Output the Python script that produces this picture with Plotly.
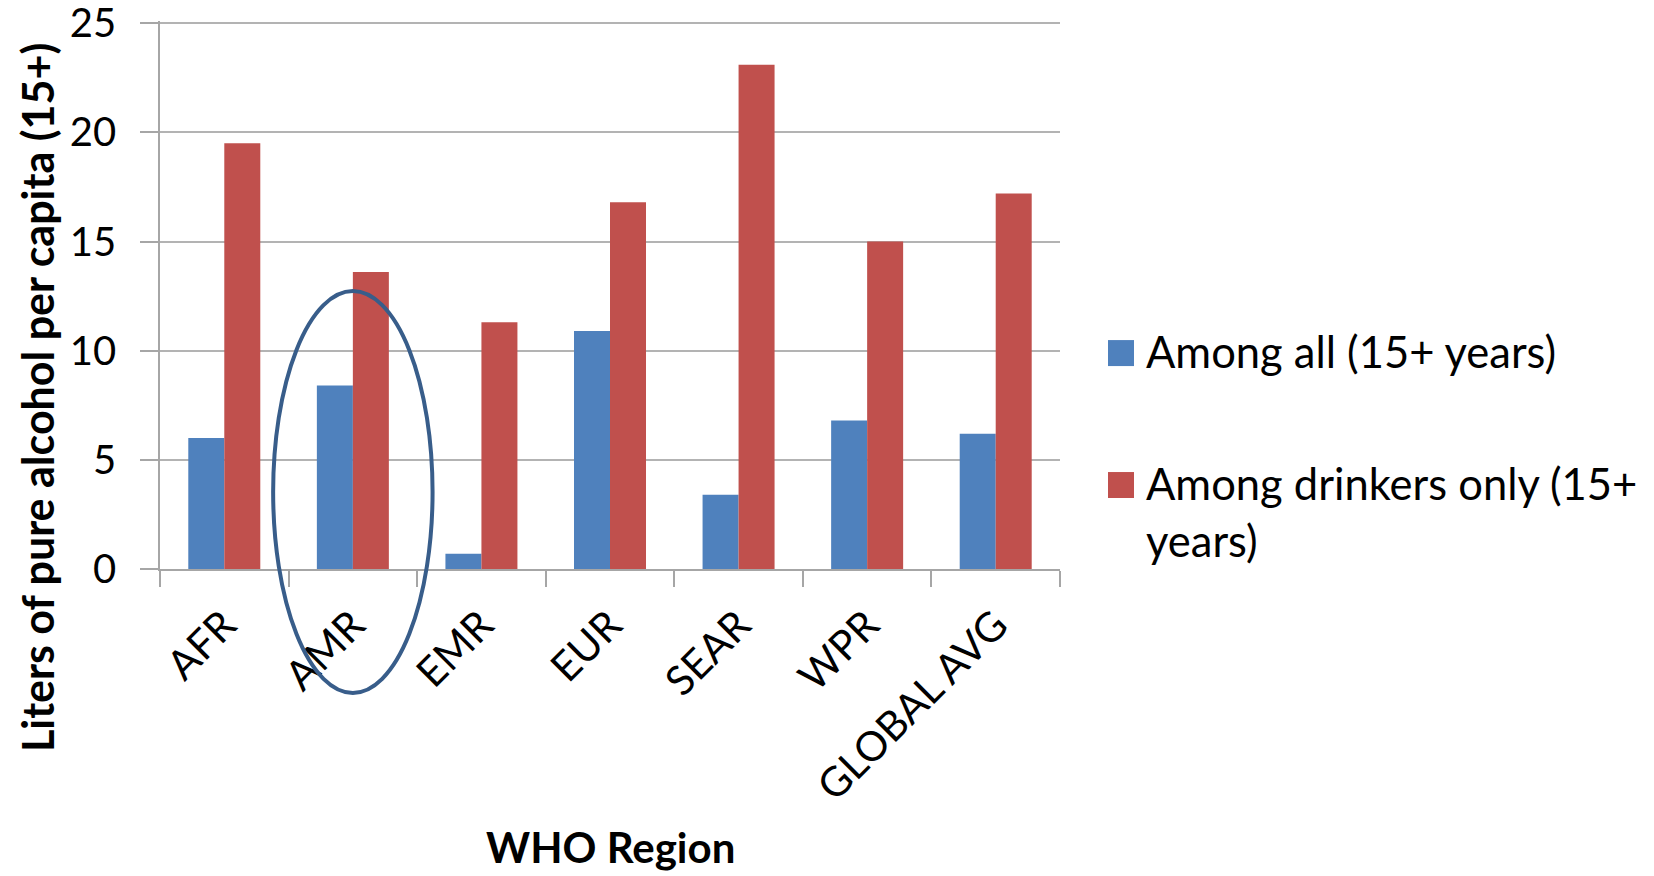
import plotly.graph_objects as go

regions = ["AFR", "AMR", "EMR", "EUR", "SEAR", "WPR", "GLOBAL AVG"]
among_all = [6.0, 8.4, 0.7, 10.9, 3.4, 6.8, 6.2]
among_drinkers = [19.5, 13.6, 11.3, 16.8, 23.1, 15.0, 17.2]
series_names = ["Among all (15+ years)", "Among drinkers only (15+<br>years)"]
colors = ["#4F81BD", "#C0504D"]
y_ticks = [0, 5, 10, 15, 20, 25]
y_top = 25.1  # slightly above 25 so the top gridline is drawn

FONT = "Lato"

fig = go.Figure()
for vals, name, col in zip([among_all, among_drinkers], series_names, colors):
    fig.add_trace(go.Bar(x=regions, y=vals, name=name.replace("<br>", " "),
                         marker=dict(color=col, line=dict(width=0)),
                         showlegend=False))

# page has an 8px body margin; work in page pixels and convert
OFF = 8
W, H = 1654 - OFF, 876 - OFF
L_pg, R_pg, Y25_pg, B_pg = 160, 1060, 23, 569
unit = (B_pg - Y25_pg) / 25.0
T_pg = B_pg - y_top * unit
L, R, T, B = L_pg - OFF, R_pg - OFF, T_pg - OFF, B_pg - OFF
pw, ph = R - L, B - T

def px_x(x):
    return (x - OFF - L) / pw

def px_y(y):
    return (B - (y - OFF)) / ph

shapes = []
annotations = []

# manual legend (large squares like the original)
leg_items = [(353, series_names[0], colors[0]), (485, series_names[1], colors[1])]
for yc, name, col in leg_items:
    shapes.append(dict(type="rect", xref="paper", yref="paper",
                       x0=px_x(1108), x1=px_x(1134), y0=px_y(yc - 13), y1=px_y(yc + 13),
                       fillcolor=col, line=dict(width=0)))
    annotations.append(dict(xref="paper", yref="paper", x=px_x(1144), y=px_y(yc - 30),
                            xanchor="left", yanchor="top", align="left", showarrow=False,
                            text=name, font=dict(family=FONT, size=43.5, color="black")))

# ellipse around AMR
shapes.append(dict(type="circle", xref="x", yref="paper",
                   x0=1 - 0.62, x1=1 + 0.62, y0=px_y(693), y1=px_y(291),
                   line=dict(color="#385D8A", width=4), fillcolor="rgba(0,0,0,0)"))

annotations.append(dict(xref="paper", yref="paper", x=px_x(37), y=px_y(398),
                        xanchor="center", yanchor="middle", textangle=-90, showarrow=False,
                        text="<b>Liters of pure alcohol per capita (15+)</b>",
                        font=dict(family=FONT, size=43, color="black")))
annotations.append(dict(xref="paper", yref="paper", x=px_x(610), y=px_y(847),
                        xanchor="center", yanchor="middle", showarrow=False,
                        text="<b>WHO Region</b>",
                        font=dict(family=FONT, size=42, color="black")))

fig.update_layout(
    width=W, height=H,
    margin=dict(l=L, r=W - R, t=T, b=H - B, pad=0, autoexpand=False),
    paper_bgcolor="white", plot_bgcolor="white",
    barmode="group", bargap=0.44, bargroupgap=0,
    showlegend=False,
    shapes=shapes, annotations=annotations,
    xaxis=dict(type="category", tickson="boundaries", ticks="outside", ticklen=16,
               tickcolor="#A6A6A6", tickwidth=1.5, showline=True, linecolor="#A6A6A6",
               linewidth=1.5, showgrid=False, tickangle=-45, automargin=False,
               ticklabelstandoff=14, ticklabeloverflow="allow",
               tickfont=dict(family=FONT, size=41, color="black"),
               range=[-0.5, 6.5]),
    yaxis=dict(range=[0, y_top], tickvals=y_ticks, ticks="outside", ticklen=18,
               tickcolor="#A6A6A6", tickwidth=1.5, showline=True, linecolor="#A6A6A6",
               linewidth=1.5, showgrid=True, gridcolor="#B3B3B3", gridwidth=1.5,
               zeroline=False, ticklabelstandoff=16, automargin=False,
               ticklabeloverflow="allow",
               tickfont=dict(family=FONT, size=40, color="black")),
)

fig.write_html("out.html")
